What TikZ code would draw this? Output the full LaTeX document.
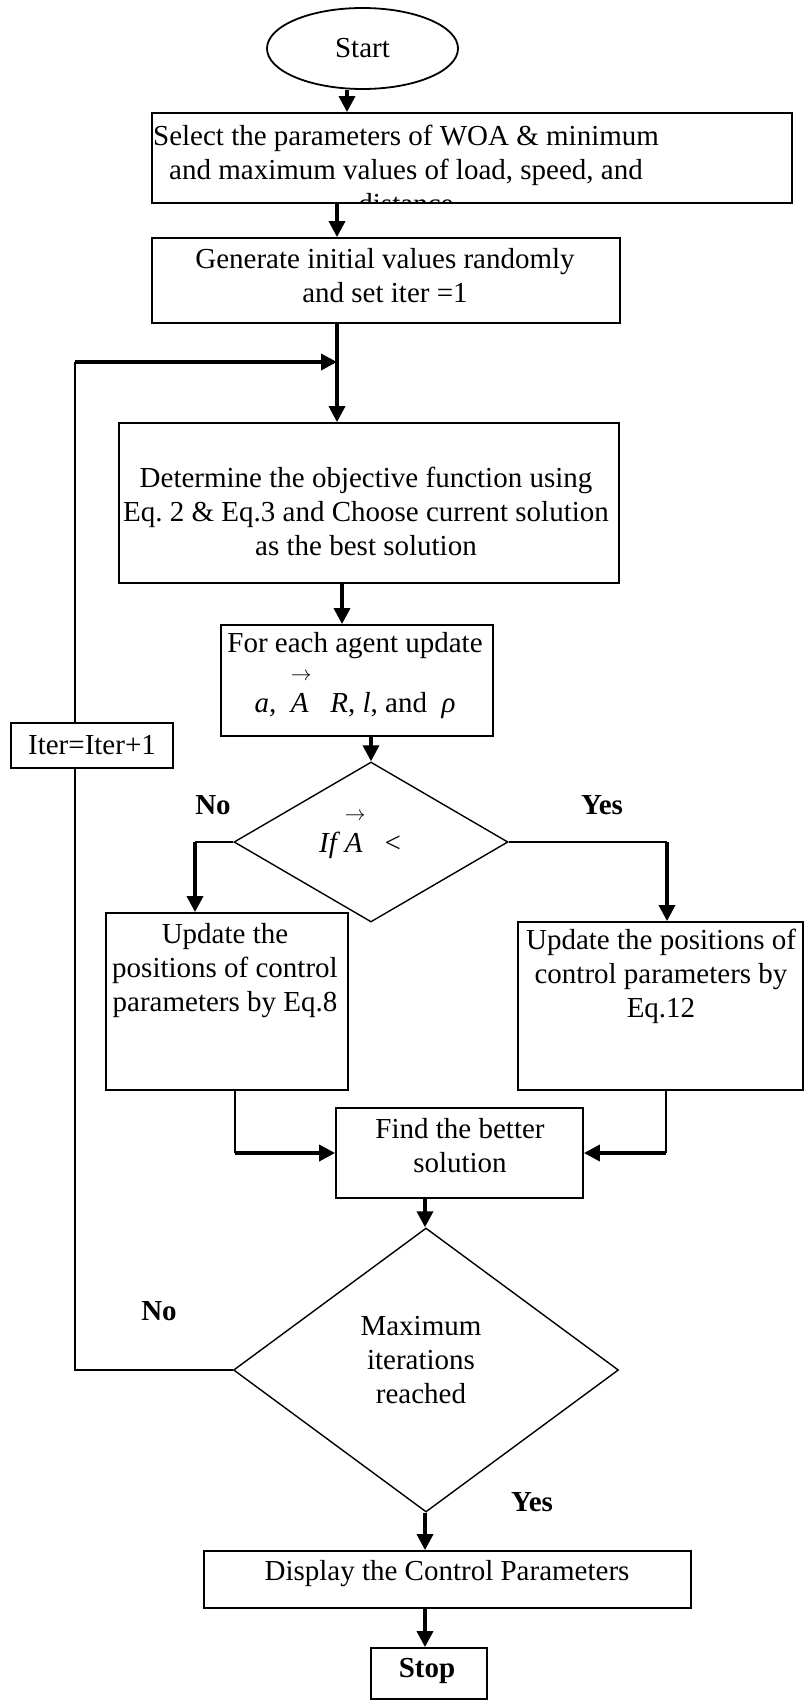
\documentclass[tikz,border=0pt]{standalone}
\usepackage{fontspec}
\setmainfont{Liberation Serif}
\usetikzlibrary{shapes.geometric,arrows.meta,positioning}
\frenchspacing
\newcommand{\flowfont}{\fontsize{29}{34}\selectfont}
\newcommand{\vecA}{\makebox[0pt][l]{\hspace{0pt}\raisebox{32pt}[0pt][0pt]{\fontsize{22}{22}\selectfont$\rightarrow$}}\textit{A}}
\begin{document}
\begin{tikzpicture}[x=1pt,y=-1pt,
    every node/.style={font=\flowfont},
    frame/.style={draw, line width=1.8pt, inner sep=0pt},
    decision/.style={draw, diamond, line width=1.4pt, inner sep=0pt},
    txt/.style={align=center, inner sep=0pt},
    lbl/.style={inner sep=0pt, font=\flowfont\bfseries},
    flow/.style={line width=3.5pt, -{Triangle[length=16pt,width=16pt]}},
    link/.style={line width=1.8pt}]
    \useasboundingbox (0,0) rectangle (805,1702);
    % columns of the connectors
    \coordinate (colA) at (347,0);
    \coordinate (colB) at (337,0);
    \coordinate (colC) at (342,0);
    \coordinate (colL) at (195,0);
    \coordinate (colR) at (667,0);
    \coordinate (colM) at (235,0);
    \coordinate (colN) at (666,0);
    \coordinate (colD) at (425,0);
    \coordinate (loop) at (75,0);
    \coordinate (merge) at (337,362);
    % boxes
    \node[frame, ellipse, minimum width=191pt, minimum height=81pt] (start) at (362.5,48.5) {Start};
    \node[frame, minimum width=640pt, minimum height=90pt] (select) at (472,158) {};
    \begin{scope}
    \clip (select.north west) rectangle (select.south east);
    \node[txt] (selecttxt) at (406,169) {Select the parameters of WOA \& minimum\\and maximum values of load, speed, and\\distance};
    \end{scope}
    \node[frame, minimum width=468pt, minimum height=85pt] (generate) at (386,280.5) {};
    \node[txt] (gentxt) at (385,275.5) {Generate initial values randomly\\and set iter =1};
    \node[frame, minimum width=500pt, minimum height=160pt] (determine) at (369,503) {};
    \node[txt] (dettxt) at (366,511) {Determine the objective function using\\Eq. 2 \& Eq.3 and Choose current solution\\as the best solution};
    \node[frame, minimum width=272pt, minimum height=111pt] (agent) at (357,680.5) {};
    \node[txt] (agenttxt) at (355,676) {For each agent update\\[26pt]\textit{a,}\ \ \vecA\ \ \ \textit{R}, \textit{l}, and\ \ \textit{ρ}};
    \node[frame, minimum width=162pt, minimum height=45pt] (iter) at (92,745.5) {Iter=Iter+1};
    \node[decision, minimum width=274pt, minimum height=160pt] (dec1) at (371,842) {};
    \node[txt] (dec1txt) at (360,845) {\textit{If}\,\vecA\ \ \ <};
    \node[frame, minimum width=242pt, minimum height=177pt] (upleft) at (227,1001.5) {};
    \node[txt] (uplefttxt) at (225,971) {Update the\\positions of control\\parameters by Eq.8};
    \node[frame, minimum width=285pt, minimum height=168pt] (upright) at (660.5,1006) {};
    \node[txt] (uprighttxt) at (661,976) {Update the positions of\\control parameters by\\Eq.12};
    \node[frame, minimum width=247pt, minimum height=90pt] (find) at (459.5,1153) {};
    \node[txt] (findtxt) at (460,1146) {Find the better\\solution};
    \node[decision, minimum width=385pt, minimum height=284pt] (dec2) at (426,1370) {};
    \node[txt] (dec2txt) at (421,1360.5) {Maximum\\iterations\\reached};
    \node[frame, minimum width=487pt, minimum height=57pt] (display) at (447.5,1579.5) {};
    \node[txt] (displaytxt) at (447,1574) {Display the Control Parameters};
    \node[frame, minimum width=116pt, minimum height=51pt] (stop) at (429,1673.5) {};
    \node[lbl] (stoptxt) at (427,1671) {Stop};
    % branch labels
    \node[lbl] (no1) at (213,805) {No};
    \node[lbl] (yes1) at (602,805) {Yes};
    \node[lbl] (no2) at (159,1311) {No};
    \node[lbl] (yes2) at (532,1502) {Yes};
    % connectors
    \draw[flow] (start.south -| colA) -- (select.north -| colA);
    \draw[flow] (select.south -| colB) -- (generate.north -| colB);
    \draw[flow] (generate.south -| colB) -- (determine.north -| colB);
    \draw[flow] (determine.south -| colC) -- (agent.north -| colC);
    \draw[flow] (agent.south -| dec1.north) -- (dec1.north);
    \draw[link] (dec1.west) -- (dec1.west -| colL);
    \draw[flow] (dec1.west -| colL) -- (upleft.north -| colL);
    \draw[link] (dec1.east) -- (dec1.east -| colR);
    \draw[flow] (dec1.east -| colR) -- (upright.north -| colR);
    \draw[link] (upleft.south -| colM) -- (find.west -| colM);
    \draw[flow] (find.west -| colM) -- (find.west);
    \draw[link] (upright.south -| colN) -- (find.east -| colN);
    \draw[flow] (find.east -| colN) -- (find.east);
    \draw[flow] (find.south -| colD) -- (dec2.north -| colD);
    \draw[flow] (dec2.south -| colD) -- (display.north -| colD);
    \draw[flow] (display.south -| colD) -- (stop.north -| colD);
    % loop back
    \draw[link] (dec2.west) -- (dec2.west -| loop) -- (iter.south -| loop);
    \draw[link] (iter.north -| loop) -- (merge -| loop);
    \draw[flow] (merge -| loop) -- (merge);
\end{tikzpicture}
\end{document}
